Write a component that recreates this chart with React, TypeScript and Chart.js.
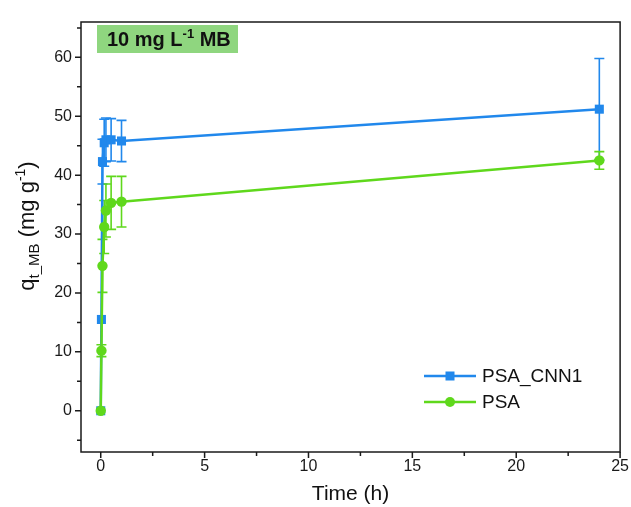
import React, { useEffect, useRef } from "react";
import { Chart, registerables } from "chart.js";
Chart.register(...registerables);

const timeH = [0, 0.033, 0.083, 0.167, 0.25, 0.5, 1, 24];
const psaCnn1 = [0, 15.5, 42.3, 45.5, 46.0, 46.0, 45.8, 51.2];
const psaCnn1Err = [0, 0, 3.8, 4.0, 3.7, 3.6, 3.5, 8.6];
const psa = [0, 10.2, 24.6, 31.2, 34.0, 35.3, 35.5, 42.5];
const psaErr = [0, 1.0, 4.5, 4.5, 4.5, 4.5, 4.3, 1.5];

const xMinorTicks = [2.5, 7.5, 12.5, 17.5, 22.5];
const yMinorTicks = [-5, 5, 15, 25, 35, 45, 55, 65];
const xMajorTicks = [0, 5, 10, 15, 20, 25];
const yMajorTicks = [0, 10, 20, 30, 40, 50, 60];

const seriesNames = ["PSA_CNN1", "PSA"];
const BLUE = "#2188ec";
const GREEN = "#5fd81c";
const FONT = "'Liberation Sans', Arial, Helvetica, sans-serif";
const AXIS = "#1a1a1a";

export default function App() {
  const ref = useRef<HTMLCanvasElement | null>(null);

  useEffect(() => {
    const canvas = ref.current;
    if (!canvas) return;

    const errorBars = {
      id: "errorBars",
      beforeDatasetsDraw(chart: any) {
        const ctx = chart.ctx;
        const xs = chart.scales.x;
        const ys = chart.scales.y;
        const sets = [
          { v: psaCnn1, e: psaCnn1Err, c: BLUE },
          { v: psa, e: psaErr, c: GREEN },
        ];
        ctx.save();
        ctx.lineWidth = 1.6;
        for (const s of sets) {
          ctx.strokeStyle = s.c;
          for (let i = 0; i < timeH.length; i++) {
            if (!s.e[i]) continue;
            const px = xs.getPixelForValue(timeH[i]);
            const top = ys.getPixelForValue(s.v[i] + s.e[i]);
            const bot = ys.getPixelForValue(s.v[i] - s.e[i]);
            ctx.beginPath();
            ctx.moveTo(px, top);
            ctx.lineTo(px, bot);
            ctx.moveTo(px - 5, top);
            ctx.lineTo(px + 5, top);
            ctx.moveTo(px - 5, bot);
            ctx.lineTo(px + 5, bot);
            ctx.stroke();
          }
        }
        ctx.restore();
      },
    };

    const deco = {
      id: "deco",
      afterDraw(chart: any) {
        const ctx = chart.ctx;
        const a = chart.chartArea;
        const xs = chart.scales.x;
        const ys = chart.scales.y;
        ctx.save();
        // frame
        ctx.strokeStyle = AXIS;
        ctx.lineWidth = 1.5;
        ctx.strokeRect(a.left, a.top, a.right - a.left, a.bottom - a.top);
        // ticks
        ctx.beginPath();
        for (const v of xMajorTicks) {
          const p = xs.getPixelForValue(v);
          ctx.moveTo(p, a.bottom);
          ctx.lineTo(p, a.bottom + 6);
        }
        for (const v of xMinorTicks) {
          const p = xs.getPixelForValue(v);
          ctx.moveTo(p, a.bottom);
          ctx.lineTo(p, a.bottom + 4);
        }
        for (const v of yMajorTicks) {
          const p = ys.getPixelForValue(v);
          ctx.moveTo(a.left, p);
          ctx.lineTo(a.left - 6, p);
        }
        for (const v of yMinorTicks) {
          const p = ys.getPixelForValue(v);
          ctx.moveTo(a.left, p);
          ctx.lineTo(a.left - 4, p);
        }
        ctx.stroke();

        // x title
        ctx.font = `21px ${FONT}`;
        ctx.fillStyle = "#111";
        ctx.textAlign = "center";
        ctx.textBaseline = "middle";
        ctx.fillText("Time (h)", (a.left + a.right) / 2, 494);

        // y title with sub/superscript
        const parts = [
          { t: "q", f: `22px ${FONT}`, dy: 0 },
          { t: "t_MB", f: `15px ${FONT}`, dy: 5 },
          { t: " (mg g", f: `22px ${FONT}`, dy: 0 },
          { t: "-1", f: `14px ${FONT}`, dy: -9 },
          { t: ")", f: `22px ${FONT}`, dy: 0 },
        ];
        let total = 0;
        for (const p of parts) {
          ctx.font = p.f;
          total += ctx.measureText(p.t).width;
        }
        ctx.translate(34, 226);
        ctx.rotate(-Math.PI / 2);
        ctx.textBaseline = "alphabetic";
        ctx.textAlign = "left";
        let x = -total / 2;
        for (const p of parts) {
          ctx.font = p.f;
          ctx.fillText(p.t, x, p.dy);
          x += ctx.measureText(p.t).width;
        }
        ctx.setTransform(1, 0, 0, 1, 0, 0);

        // label box
        const bx = a.left + 16;
        const by = a.top + 3;
        ctx.fillStyle = "#8fd67f";
        ctx.fillRect(bx, by, 141, 28);
        ctx.fillStyle = "#111";
        const lp = [
          { t: "10 mg L", f: `bold 20px ${FONT}`, dy: 0 },
          { t: "-1", f: `bold 13px ${FONT}`, dy: -8 },
          { t: " MB", f: `bold 20px ${FONT}`, dy: 0 },
        ];
        let lx = bx + 10;
        for (const p of lp) {
          ctx.font = p.f;
          ctx.fillText(p.t, lx, by + 21 + p.dy);
          lx += ctx.measureText(p.t).width;
        }

        // legend
        const legendItems = [
          { n: seriesNames[0], c: BLUE, s: "rect" },
          { n: seriesNames[1], c: GREEN, s: "circle" },
        ];
        legendItems.forEach((it, i) => {
          const y = 376 + i * 26;
          ctx.strokeStyle = it.c;
          ctx.lineWidth = 2.5;
          ctx.beginPath();
          ctx.moveTo(424, y);
          ctx.lineTo(476, y);
          ctx.stroke();
          ctx.fillStyle = it.c;
          if (it.s === "rect") {
            ctx.fillRect(450 - 4.5, y - 4.5, 9, 9);
          } else {
            ctx.beginPath();
            ctx.arc(450, y, 5, 0, Math.PI * 2);
            ctx.fill();
          }
          ctx.fillStyle = "#111";
          ctx.font = `19px ${FONT}`;
          ctx.textBaseline = "middle";
          ctx.fillText(it.n, 482, y + 1);
        });
        ctx.restore();
      },
    };

    const chart = new Chart(canvas, {
      type: "line",
      data: {
        datasets: [
          {
            label: seriesNames[0],
            data: timeH.map((t, i) => ({ x: t, y: psaCnn1[i] })),
            borderColor: BLUE,
            backgroundColor: BLUE,
            borderWidth: 2.5,
            pointStyle: "rect",
            pointRadius: 6.4,
            pointBorderWidth: 0,
            tension: 0,
            order: 1,
          },
          {
            label: seriesNames[1],
            data: timeH.map((t, i) => ({ x: t, y: psa[i] })),
            borderColor: GREEN,
            backgroundColor: GREEN,
            borderWidth: 2.5,
            pointStyle: "circle",
            pointRadius: 5.2,
            pointBorderWidth: 0,
            tension: 0,
            order: 0,
          },
        ],
      },
      options: {
        responsive: false,
        animation: false,
        devicePixelRatio: 1,
        layout: { padding: { top: 22, right: 10, left: 0, bottom: 0 } },
        plugins: { legend: { display: false }, tooltip: { enabled: false } },
        scales: {
          x: {
            type: "linear",
            min: -0.95,
            max: 25,
            ticks: {
              stepSize: 5,
              includeBounds: false,
              font: { family: FONT, size: 16 },
              color: "#1a1a1a",
              padding: 2,
              maxRotation: 0,
            },
            grid: { display: false, drawTicks: true, tickLength: 3 },
            border: { display: false },
            afterFit: (s: any) => {
              s.height = 55;
            },
          },
          y: {
            type: "linear",
            min: -7,
            max: 66,
            ticks: {
              stepSize: 10,
              includeBounds: false,
              font: { family: FONT, size: 16 },
              color: "#1a1a1a",
              padding: 3,
            },
            grid: { display: false, drawTicks: true, tickLength: 6 },
            border: { display: false },
            afterFit: (s: any) => {
              s.width = 81;
            },
          },
        },
      } as any,
      plugins: [errorBars, deco],
    });

    return () => chart.destroy();
  }, []);

  return (
    <div style={{ position: "fixed", left: 0, top: 0, width: 631, height: 507, background: "#fff" }}>
      <canvas ref={ref} width={631} height={507} style={{ width: 631, height: 507 }} />
    </div>
  );
}
